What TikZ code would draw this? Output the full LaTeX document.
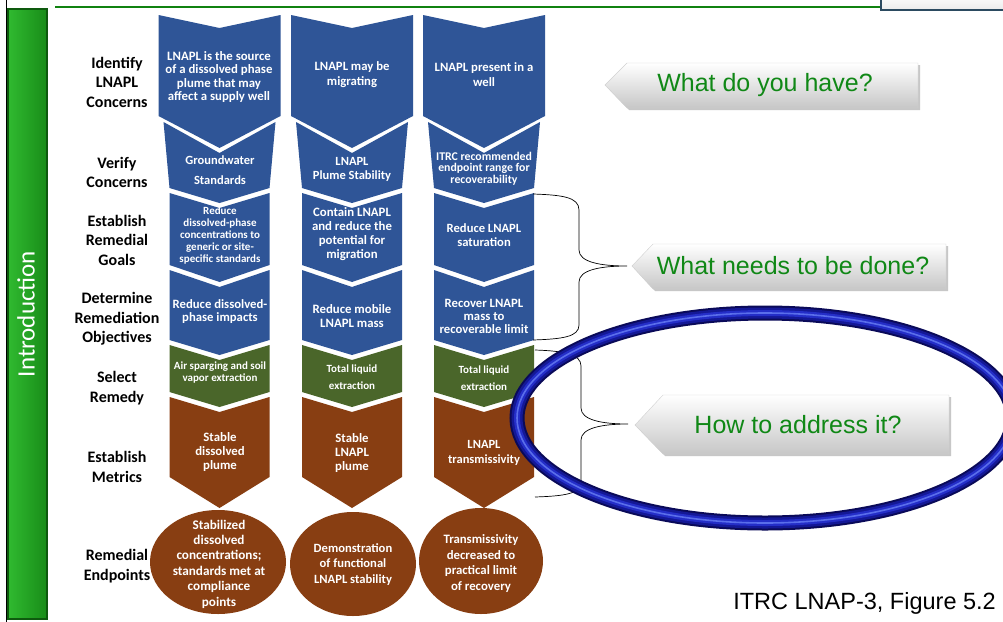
\documentclass[tikz,border=0pt]{standalone}
\usepackage{fontspec}
\setmainfont{Carlito}
\newfontfamily\arialf{Liberation Sans}
\usetikzlibrary{shapes.geometric}
\definecolor{chblue}{RGB}{47,85,151}
\definecolor{chgreen}{RGB}{74,102,42}
\definecolor{chbrown}{RGB}{136,62,18}
\definecolor{qgreen}{RGB}{16,136,22}
\definecolor{barlight}{RGB}{48,186,48}
\definecolor{bardark}{RGB}{24,140,24}
\definecolor{bardeep}{RGB}{14,90,14}
\definecolor{topline}{RGB}{16,130,16}
\definecolor{boxedge}{RGB}{43,74,96}
\definecolor{ringa}{RGB}{10,10,88}
\definecolor{ringb}{RGB}{20,24,150}
\definecolor{ringc}{RGB}{36,46,200}
\definecolor{ringd}{RGB}{90,110,235}
\newcommand\fsz[2]{\fontsize{#1}{#2}\selectfont}
\newcommand\chevp[8]{%
  \fill[#8] ({#1-#6},#2) -- (#1,{#2+#3}) -- ({#1+#6},#2) -- ({#1+#7},#4)
    -- (#1,{#4+#5}) -- ({#1-#7},#4) -- cycle;}
\tikzset{
  ctext/.style={text=white, align=center, inner sep=0pt},
  lab/.style={font=\bfseries\fsz{16}{19.5}, align=center, inner sep=0pt},
  callshape/.style={top color=white, bottom color=black!22, draw=black!18, line width=0.4pt},
  callshadow/.style={fill=black!22},
  calltext/.style={font=\arialf\fsz{25}{30}, text=qgreen, inner sep=0pt},
  bracestyle/.style={draw=black, line width=0.7pt},
}
\begin{document}
\begin{tikzpicture}[x=1pt,y=-1pt]
\useasboundingbox (0,0) rectangle (1003,621);
\begin{scope}
\clip (0,0) rectangle (1003,621);
\fill[white] (0,0) rectangle (1003,621);
% left frame line and green bar
\draw[black, line width=1.6pt] (6.5,-2) -- (6.5,623);
\shade[left color=barlight, right color=bardark] (8,9) rectangle (47,619);
\draw[bardeep, line width=1.4pt] (8,9) rectangle (47,619);
\node[rotate=90, text=white, font=\fsz{25}{30}, inner sep=0pt] (intro) at (26,314) {Introduction};
% top line and top-right box
\draw[topline, line width=2.4pt] (55,7) -- (881,7);
\shade[top color=white, bottom color=black!8] (881,-6) rectangle (1010,10);
\draw[boxedge, line width=2pt] (881,-6) rectangle (1010,10);
% chevrons
\foreach \cx/\cl in {219.5/1,352/2,484/3}{
  \chevp{\cx}{15}{13}{116}{32}{61}{61}{chblue}
  \chevp{\cx}{122}{31}{188}{15}{56}{50}{chblue}
  \chevp{\cx}{193}{15}{265}{17}{50}{50}{chblue}
  \chevp{\cx}{270}{17}{340}{15}{50}{50}{chblue}
  \chevp{\cx}{345}{15}{392}{15}{50}{50}{chgreen}
  \chevp{\cx}{397}{15}{477}{31}{50}{50}{chbrown}
}
\fill[chbrown] (218,562) ellipse [x radius=68, y radius=52];
\fill[chbrown] (353,564) ellipse [x radius=63, y radius=52];
\fill[chbrown] (481,561) ellipse [x radius=62, y radius=53];
% left labels
\node[lab] (l1) at (117,82) {Identify\\LNAPL\\Concerns};
\node[lab] (l2) at (117,172.5) {Verify\\Concerns};
\node[lab] (l3) at (117,240) {Establish\\Remedial\\Goals};
\node[lab] (l4) at (117,319) {Determine\\Remediation\\Objectives};
\node[lab] (l5) at (117,388) {Select\\Remedy};
\node[lab] (l6) at (117,467) {Establish\\Metrics};
\node[lab] (l7) at (117,566) {Remedial\\Endpoints};
% column 1 texts
\node[ctext, font=\bfseries\fsz{12.8}{13.6}] (t11) at (219,77) {LNAPL is the source\\of a dissolved phase\\plume that may\\affect a supply well};
\node[ctext, font=\bfseries\fsz{12.5}{20}] (t12) at (220,170) {Groundwater\\Standards};
\node[ctext, font=\bfseries\fsz{11}{11.8}] (t13) at (220,235.5) {Reduce\\dissolved-phase\\concentrations to\\generic or site-\\specific standards};
\node[ctext, font=\bfseries\fsz{12.7}{13.5}] (t14) at (220,311.5) {Reduce dissolved-\\phase impacts};
\node[ctext, font=\bfseries\fsz{11}{12}] (t15) at (220,372) {Air sparging and soil\\vapor extraction};
\node[ctext, font=\bfseries\fsz{12.8}{14}] (t16) at (220,452) {Stable\\dissolved\\plume};
\node[ctext, font=\bfseries\fsz{13.2}{15.4}] (e1) at (219,564) {Stabilized\\dissolved\\concentrations;\\standards met at\\compliance\\points};
% column 2 texts
\node[ctext, font=\bfseries\fsz{12.7}{15}] (t21) at (352,74.5) {LNAPL may be\\migrating};
\node[ctext, font=\bfseries\fsz{12.5}{14}] (t22) at (352,169) {LNAPL\\Plume Stability};
\node[ctext, font=\bfseries\fsz{12.8}{14}] (t23) at (352,234) {Contain LNAPL\\and reduce the\\potential for\\migration};
\node[ctext, font=\bfseries\fsz{12.8}{14}] (t24) at (352,316) {Reduce mobile\\LNAPL mass};
\node[ctext, font=\bfseries\fsz{11}{17}] (t25) at (352,377.5) {Total liquid\\extraction};
\node[ctext, font=\bfseries\fsz{12.8}{14}] (t26) at (352,453) {Stable\\LNAPL\\plume};
\node[ctext, font=\bfseries\fsz{12.6}{15.5}] (e2) at (353,564.5) {Demonstration\\of functional\\LNAPL stability};
% column 3 texts
\node[ctext, font=\bfseries\fsz{12.7}{15}] (t31) at (484,74.5) {LNAPL present in a\\well};
\node[ctext, font=\bfseries\fsz{11.8}{11.6}] (t32) at (484,168.5) {ITRC recommended\\endpoint range for\\recoverability};
\node[ctext, font=\bfseries\fsz{12.6}{14}] (t33) at (484,235) {Reduce LNAPL\\saturation};
\node[ctext, font=\bfseries\fsz{12.7}{13}] (t34) at (484,316) {Recover LNAPL\\mass to\\recoverable limit};
\node[ctext, font=\bfseries\fsz{11}{17}] (t35) at (484,378.5) {Total liquid\\extraction};
\node[ctext, font=\bfseries\fsz{12.5}{15}] (t36) at (484,452.5) {LNAPL\\transmissivity};
\node[ctext, font=\bfseries\fsz{12.8}{15.5}] (e3) at (481,563.5) {Transmissivity\\decreased to\\practical limit\\of recovery};
% braces
\coordinate (b1a) at (533,194);
\coordinate (b1tip) at (627,266);
\coordinate (b1b) at (533,340);
\draw[bracestyle] (b1a) .. controls (562,195) and (579,197) .. (579,210) -- (579,250)
  .. controls (579,262) and (600,266) .. (b1tip)
  .. controls (600,266) and (579,270) .. (579,282) -- (579,325)
  .. controls (579,337) and (562,339) .. (b1b);
\coordinate (b2a) at (535,350);
\coordinate (b2tip) at (628,424);
\coordinate (b2b) at (535,497);
\draw[bracestyle] (b2a) .. controls (564,351) and (581,354) .. (581,366) -- (581,408)
  .. controls (581,420) and (602,424) .. (b2tip)
  .. controls (602,424) and (581,428) .. (581,440) -- (581,482)
  .. controls (581,494) and (564,496) .. (b2b);
% ring
\draw[ringa, line width=15pt] (765,418) ellipse [x radius=248, y radius=105];
\draw[ringb, line width=11pt] (765,418) ellipse [x radius=248, y radius=105];
\draw[ringc, line width=6pt] (765,418) ellipse [x radius=248, y radius=105];
\draw[ringd, line width=1.6pt] (765,418) ellipse [x radius=248, y radius=105];
% callouts
\fill[callshadow] (607,87) -- (629,65) -- (920,65) -- (920,110) -- (629,110) -- cycle;
\shade[callshape] (605,85) -- (627,63) -- (918,63) -- (918,108) -- (627,108) -- cycle;
\node[calltext] (q1) at (765,85) {What do you have?};
\fill[callshadow] (634,268) -- (655,246) -- (948,246) -- (948,291) -- (655,291) -- cycle;
\shade[callshape] (632,266) -- (653,244) -- (946,244) -- (946,289) -- (653,289) -- cycle;
\node[calltext] (q2) at (793,266) {What needs to be done?};
\fill[callshadow] (637,427) -- (665,397) -- (951,397) -- (951,456) -- (665,456) -- cycle;
\shade[callshape] (635,425) -- (663,395) -- (949,395) -- (949,454) -- (663,454) -- cycle;
\node[calltext] (q3) at (798,425) {How to address it?};
% caption
\node[font=\arialf\fsz{23.5}{28}, anchor=east, inner sep=0pt] (cap) at (996,603) {ITRC LNAP-3, Figure 5.2};
\end{scope}
\end{tikzpicture}
\end{document}
